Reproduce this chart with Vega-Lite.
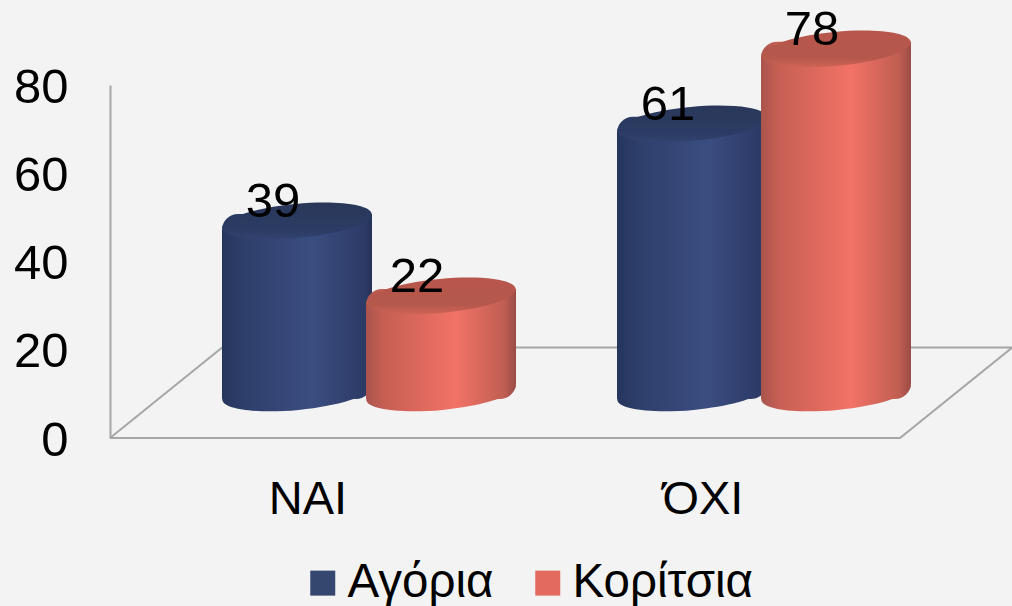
{
"$schema":"https://vega.github.io/schema/vega-lite/v6.json",
"width":790,"height":353,
"autosize":{"type":"none"},
"padding":{"left":110,"top":85,"right":112,"bottom":168},
"background":"#f3f3f3",
"config":{"view":{"stroke":null},"font":"Liberation Sans"},
"data":{"values":[
{"group":"ΝΑΙ","series":"Αγόρια","value":39},
{"group":"ΝΑΙ","series":"Κορίτσια","value":22},
{"group":"ΌΧΙ","series":"Αγόρια","value":61},
{"group":"ΌΧΙ","series":"Κορίτσια","value":78}
]},
"encoding":{
"x":{"field":"group","type":"nominal","sort":["ΝΑΙ","ΌΧΙ"],"scale":{"domain":["ΝΑΙ","ΌΧΙ"],"range":[61.5,851.5],"paddingInner":0,"paddingOuter":0},"axis":null},
"xOffset":{"field":"series","type":"nominal","scale":{"domain":["Αγόρια","Κορίτσια"],"paddingInner":0,"paddingOuter":0.3715}},
"y":{"field":"value","type":"quantitative","scale":{"domain":[0,80],"nice":false},
   "axis":{"values":[0,20,40,60,80],"grid":false,"ticks":false,"domain":true,"domainColor":"#a6a6a6","domainWidth":2,"labelFontSize":49,"labelColor":"#000000","labelPadding":42,"labelFont":"Liberation Sans","title":null,"labelOffset":2}}
},
"layer":[
{"data":{"values":[{"depth":0,"along":0,"step":1},{"depth":0.142,"along":20.5,"step":2},{"depth":1.142,"along":20.5,"step":3},{"depth":1,"along":0,"step":4},{"depth":0,"along":0,"step":5}]},
 "mark":{"type":"line","stroke":"#a6a6a6","strokeWidth":2,"clip":false},
 "encoding":{"x":{"field":"depth","type":"quantitative","scale":{"domain":[0,1],"nice":false,"zero":false},"axis":null},
  "xOffset":null,
  "y":{"field":"along","type":"quantitative"},
  "order":{"field":"step","type":"quantitative"}}},
{"mark":{"type":"text","fontSize":40,"font":"Liberation Sans","color":"#000000","opacity":0},
 "encoding":{"x":{"field":"group","type":"nominal","sort":["ΝΑΙ","ΌΧΙ"],"scale":{"domain":["ΝΑΙ","ΌΧΙ"],"range":[61.5,851.5],"paddingInner":0,"paddingOuter":0},"axis":{"title":null,"labelFontSize":47,"labelAngle":0,"labelColor":"#000000","labelFont":"Liberation Sans","ticks":false,"domain":false,"labelPadding":38,"grid":false,"labelOffset":-61.5}},"xOffset":null,"y":{"datum":0}}},
{"mark":{"type":"point","filled":true,"size":1,"yOffset":-45},
 "encoding":{"y":{"datum":0},"color":{"field":"series","type":"nominal","scale":{"domain":["Αγόρια","Κορίτσια"],"range":["#35466f","#e26a5e"]},"legend":{"orient":"none","legendX":189,"legendY":474,"direction":"horizontal","title":null,"symbolType":"square","symbolSize":625,"symbolStrokeWidth":0,"labelFontSize":47.5,"labelFont":"Liberation Sans","labelColor":"#000000","labelOffset":1,"labelLimit":400,"columnPadding":30,"symbolOpacity":1}}}},
{"transform":[{"filter":"datum.series==='Αγόρια'"}],
 "layer":[
 {"mark":{"type":"point","filled":true,"opacity":1,"yOffset":-45,"size":22500,"shape":"M 0.9956 -0.0941 C 1.0074 0.0307 0.5713 0.174 0.0214 0.226 C -0.5285 0.278 -0.9838 0.2189 -0.9956 0.0941 C -1.0074 -0.0307 -0.5713 -0.174 -0.0214 -0.226 C 0.5285 -0.278 0.9838 -0.2189 0.9956 -0.0941 Z",
  "fill":{"gradient":"linear","x1":0,"x2":1,"y1":0,"y2":0,"stops":[{"offset":0,"color":"#25355c"},{"offset":0.15,"color":"#2e3f6b"},{"offset":0.6,"color":"#3b4d80"},{"offset":0.95,"color":"#2c3a66"},{"offset":1,"color":"#25335a"}]}},
  "encoding":{"y":{"datum":0}}},
 {"mark":{"type":"bar","width":150,"yOffset":-52,"y2Offset":-39,"cornerRadiusTopLeft":16,"cornerRadiusBottomRight":16,"clip":false,
  "fill":{"gradient":"linear","x1":0,"x2":1,"y1":0,"y2":0,"stops":[{"offset":0,"color":"#25355c"},{"offset":0.15,"color":"#2e3f6b"},{"offset":0.6,"color":"#3b4d80"},{"offset":0.95,"color":"#2c3a66"},{"offset":1,"color":"#25335a"}]}},
  "encoding":{"y":{"field":"value","type":"quantitative"},"y2":{"datum":0}}},
 {"mark":{"type":"point","filled":true,"opacity":1,"yOffset":-45,"size":22500,"shape":"M 0.9956 -0.0941 C 1.0074 0.0307 0.5713 0.174 0.0214 0.226 C -0.5285 0.278 -0.9838 0.2189 -0.9956 0.0941 C -1.0074 -0.0307 -0.5713 -0.174 -0.0214 -0.226 C 0.5285 -0.278 0.9838 -0.2189 0.9956 -0.0941 Z",
  "fill":{"gradient":"linear","x1":0,"x2":0,"y1":0,"y2":1,"stops":[{"offset":0,"color":"#293859"},{"offset":0.75,"color":"#2b3b64"},{"offset":1,"color":"#32436f"}]}},
  "encoding":{"y":{"field":"value","type":"quantitative"}}}
 ]},
{"transform":[{"filter":"datum.series==='Κορίτσια'"}],
 "layer":[
 {"mark":{"type":"point","filled":true,"opacity":1,"yOffset":-45,"size":22500,"shape":"M 0.9956 -0.0941 C 1.0074 0.0307 0.5713 0.174 0.0214 0.226 C -0.5285 0.278 -0.9838 0.2189 -0.9956 0.0941 C -1.0074 -0.0307 -0.5713 -0.174 -0.0214 -0.226 C 0.5285 -0.278 0.9838 -0.2189 0.9956 -0.0941 Z",
  "fill":{"gradient":"linear","x1":0,"x2":1,"y1":0,"y2":0,"stops":[{"offset":0,"color":"#a9544c"},{"offset":0.12,"color":"#c75f54"},{"offset":0.6,"color":"#f27266"},{"offset":0.92,"color":"#c05e52"},{"offset":1,"color":"#9a4c45"}]}},
  "encoding":{"y":{"datum":0}}},
 {"mark":{"type":"bar","width":150,"yOffset":-52,"y2Offset":-39,"cornerRadiusTopLeft":16,"cornerRadiusBottomRight":16,"clip":false,
  "fill":{"gradient":"linear","x1":0,"x2":1,"y1":0,"y2":0,"stops":[{"offset":0,"color":"#a9544c"},{"offset":0.12,"color":"#c75f54"},{"offset":0.6,"color":"#f27266"},{"offset":0.92,"color":"#c05e52"},{"offset":1,"color":"#9a4c45"}]}},
  "encoding":{"y":{"field":"value","type":"quantitative"},"y2":{"datum":0}}},
 {"mark":{"type":"point","filled":true,"opacity":1,"yOffset":-45,"size":22500,"shape":"M 0.9956 -0.0941 C 1.0074 0.0307 0.5713 0.174 0.0214 0.226 C -0.5285 0.278 -0.9838 0.2189 -0.9956 0.0941 C -1.0074 -0.0307 -0.5713 -0.174 -0.0214 -0.226 C 0.5285 -0.278 0.9838 -0.2189 0.9956 -0.0941 Z",
  "fill":{"gradient":"linear","x1":0,"x2":0,"y1":0,"y2":1,"stops":[{"offset":0,"color":"#b8564c"},{"offset":0.75,"color":"#b5584c"},{"offset":1,"color":"#cf6456"}]}},
  "encoding":{"y":{"field":"value","type":"quantitative"}}}
 ]},
{"mark":{"type":"text","fontSize":49,"font":"Liberation Sans","color":"#000000","dx":-24,"yOffset":-64,"baseline":"middle","align":"center"},
 "encoding":{"y":{"field":"value","type":"quantitative"},"text":{"field":"value","type":"quantitative"}}}
],
"resolve":{"scale":{"x":"independent"}}
}
